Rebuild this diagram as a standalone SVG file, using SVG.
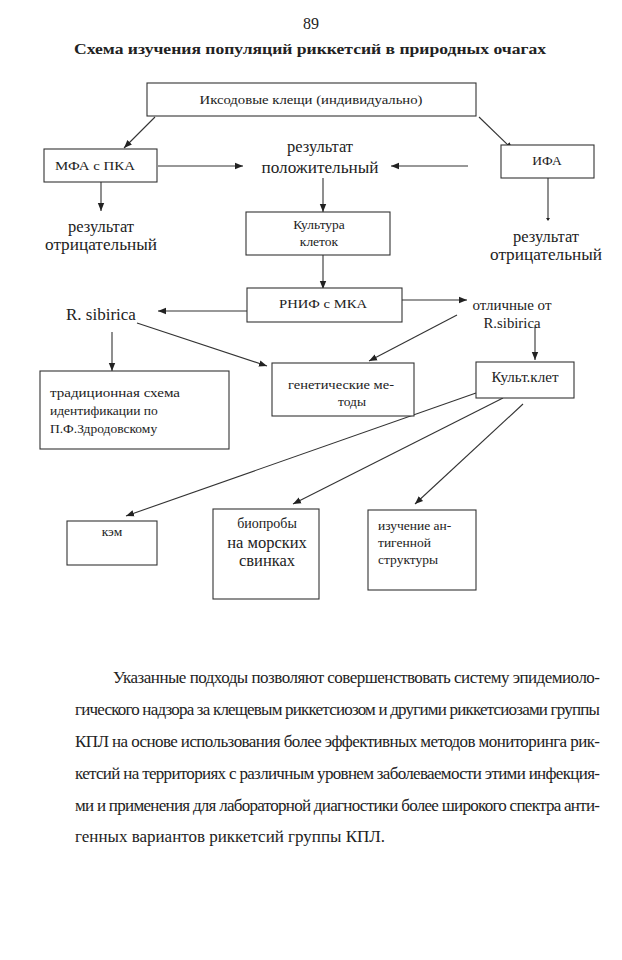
<svg xmlns="http://www.w3.org/2000/svg" width="622" height="960" viewBox="0 0 622 960">
<style>
.bx{fill:#fff;stroke:#333;stroke-width:1.1}
.t{font-family:"Liberation Serif","Times New Roman",serif;fill:#222}
.s13{font-size:13.5px}
.s16{font-size:16.5px}
.ln{stroke:#333;stroke-width:1.1;fill:none}
.body{font-family:"Liberation Serif","Times New Roman",serif;font-size:17px;fill:#222}
</style>
<defs>
<marker id="ah" markerUnits="userSpaceOnUse" markerWidth="10" markerHeight="8" refX="8" refY="4" orient="auto">
<path d="M0,0.8 L8,4 L0,7.2 Z" fill="#222"/>
</marker>
<marker id="tk" markerUnits="userSpaceOnUse" markerWidth="6" markerHeight="6" refX="3" refY="3" orient="auto">
<path d="M1,1 L4,3 L1,5 Z" fill="#222"/>
</marker>
</defs>
<rect width="622" height="960" fill="#fff"/>
<text class="t" x="311" y="29" font-size="16" text-anchor="middle">89</text>
<text class="t" x="310" y="54" font-size="15.5" font-weight="bold" text-anchor="middle" textLength="472" lengthAdjust="spacingAndGlyphs">Схема изучения популяций риккетсий в природных очагах</text>

<g id="connectors">
<line class="ln" x1="155" y1="117" x2="124" y2="148" marker-end="url(#ah)"/>
<line class="ln" x1="479" y1="117" x2="513" y2="150" marker-end="url(#ah)"/>
<line class="ln" x1="158" y1="166" x2="243" y2="166" marker-end="url(#ah)"/>
<line class="ln" x1="468" y1="166" x2="391" y2="166" marker-end="url(#ah)"/>
<line class="ln" x1="101" y1="182" x2="101" y2="211" marker-end="url(#ah)"/>
<line class="ln" x1="548" y1="178" x2="548" y2="220" marker-end="url(#tk)"/>
<line class="ln" x1="323" y1="178" x2="323" y2="212" marker-end="url(#ah)"/>
<line class="ln" x1="323" y1="255" x2="323" y2="289" marker-end="url(#ah)"/>
<line class="ln" x1="247" y1="311" x2="158" y2="311" marker-end="url(#ah)"/>
<line class="ln" x1="402" y1="300" x2="467" y2="300" marker-end="url(#ah)"/>
<line class="ln" x1="112" y1="332" x2="112" y2="371" marker-end="url(#ah)"/>
<line class="ln" x1="137" y1="323" x2="267" y2="366" marker-end="url(#ah)"/>
<line class="ln" x1="457" y1="315" x2="369" y2="361" marker-end="url(#ah)"/>
<line class="ln" x1="535" y1="327" x2="535" y2="360" marker-end="url(#ah)"/>
<line class="ln" x1="476" y1="393" x2="126" y2="516" marker-end="url(#ah)"/>
<line class="ln" x1="503" y1="398" x2="293" y2="504" marker-end="url(#ah)"/>
<line class="ln" x1="523" y1="404" x2="415" y2="504" marker-end="url(#ah)"/>
</g>

<g id="n-ticks">
<rect class="bx" x="147" y="83" width="329" height="33"/>
<text class="t s13" x="311" y="104" text-anchor="middle" textLength="223" lengthAdjust="spacingAndGlyphs">Иксодовые клещи (индивидуально)</text>
</g>
<g id="n-mfa">
<rect class="bx" x="44" y="149" width="113" height="33"/>
<text class="t s13" x="55" y="170" textLength="80" lengthAdjust="spacingAndGlyphs">МФА с ПКА</text>
</g>
<g id="n-positive">
<text class="t s16" x="320" y="152" text-anchor="middle">результат</text>
<text class="t s16" x="320" y="173" text-anchor="middle" textLength="117" lengthAdjust="spacingAndGlyphs">положительный</text>
</g>
<g id="n-ifa">
<rect class="bx" x="501" y="145" width="93" height="33"/>
<text class="t s13" x="547" y="165" text-anchor="middle">ИФА</text>
</g>
<g id="n-neg-left">
<text class="t s16" x="101" y="232" text-anchor="middle">результат</text>
<text class="t s16" x="101" y="250" text-anchor="middle" textLength="112" lengthAdjust="spacingAndGlyphs">отрицательный</text>
</g>
<g id="n-neg-right">
<text class="t s16" x="546" y="242" text-anchor="middle">результат</text>
<text class="t s16" x="546" y="260" text-anchor="middle" textLength="112" lengthAdjust="spacingAndGlyphs">отрицательный</text>
</g>
<g id="n-culture">
<rect class="bx" x="246" y="212" width="144" height="43"/>
<text class="t s13" x="319" y="229" text-anchor="middle">Культура</text>
<text class="t s13" x="319" y="246" text-anchor="middle">клеток</text>
</g>
<g id="n-rnif">
<rect class="bx" x="247" y="288" width="155" height="34"/>
<text class="t s13" x="323" y="308" text-anchor="middle" textLength="88" lengthAdjust="spacingAndGlyphs">РНИФ с МКА</text>
</g>
<g id="n-rsib">
<text class="t" x="66" y="320" font-size="17">R. sibirica</text>
</g>
<g id="n-other">
<text class="t" x="512" y="310" font-size="14" text-anchor="middle" textLength="79" lengthAdjust="spacingAndGlyphs">отличные от</text>
<text class="t" x="512" y="328" font-size="14" text-anchor="middle" textLength="57" lengthAdjust="spacingAndGlyphs">R.sibirica</text>
</g>
<g id="n-trad">
<rect class="bx" x="40" y="371" width="189" height="78"/>
<text class="t s13" x="50" y="397" textLength="130" lengthAdjust="spacingAndGlyphs">традиционная схема</text>
<text class="t s13" x="50" y="415">идентификации по</text>
<text class="t s13" x="50" y="433">П.Ф.Здродовскому</text>
</g>
<g id="n-genetic">
<rect class="bx" x="272" y="363" width="142" height="53"/>
<text class="t s13" x="341" y="389" text-anchor="middle" textLength="106" lengthAdjust="spacingAndGlyphs">генетические ме-</text>
<text class="t s13" x="352" y="406" text-anchor="middle">тоды</text>
</g>
<g id="n-kultklet">
<rect class="bx" x="476" y="362" width="98" height="36"/>
<text class="t" x="525" y="382" font-size="14" text-anchor="middle" textLength="67" lengthAdjust="spacingAndGlyphs">Культ.клет</text>
</g>
<g id="n-kem">
<rect class="bx" x="67" y="521" width="90" height="44"/>
<text class="t s13" x="112" y="536" text-anchor="middle">кэм</text>
</g>
<g id="n-bio">
<rect class="bx" x="213" y="509" width="106" height="90"/>
<text class="t" x="267" y="528" font-size="14" text-anchor="middle">биопробы</text>
<text class="t" x="267" y="548" font-size="16.5" text-anchor="middle">на морских</text>
<text class="t" x="267" y="566" font-size="16.5" text-anchor="middle">свинках</text>
</g>
<g id="n-antigen">
<rect class="bx" x="368" y="510" width="108" height="80"/>
<text class="t s13" x="378" y="530">изучение  ан-</text>
<text class="t s13" x="378" y="547">тигенной</text>
<text class="t s13" x="378" y="564">структуры</text>
</g>

<g id="body">
<text class="body" x="113" y="683" textLength="487" lengthAdjust="spacing">Указанные подходы позволяют совершенствовать систему эпидемиоло-</text>
<text class="body" x="75" y="715" textLength="525" lengthAdjust="spacing">гического надзора за клещевым риккетсиозом и другими риккетсиозами группы</text>
<text class="body" x="75" y="747" textLength="525" lengthAdjust="spacing">КПЛ на основе использования более эффективных методов мониторинга рик-</text>
<text class="body" x="75" y="779" textLength="525" lengthAdjust="spacing">кетсий на территориях с различным уровнем заболеваемости этими инфекция-</text>
<text class="body" x="75" y="811" textLength="525" lengthAdjust="spacing">ми и применения для лабораторной диагностики более широкого спектра анти-</text>
<text class="body" x="75" y="842">генных вариантов риккетсий группы КПЛ.</text>
</g>
</svg>
